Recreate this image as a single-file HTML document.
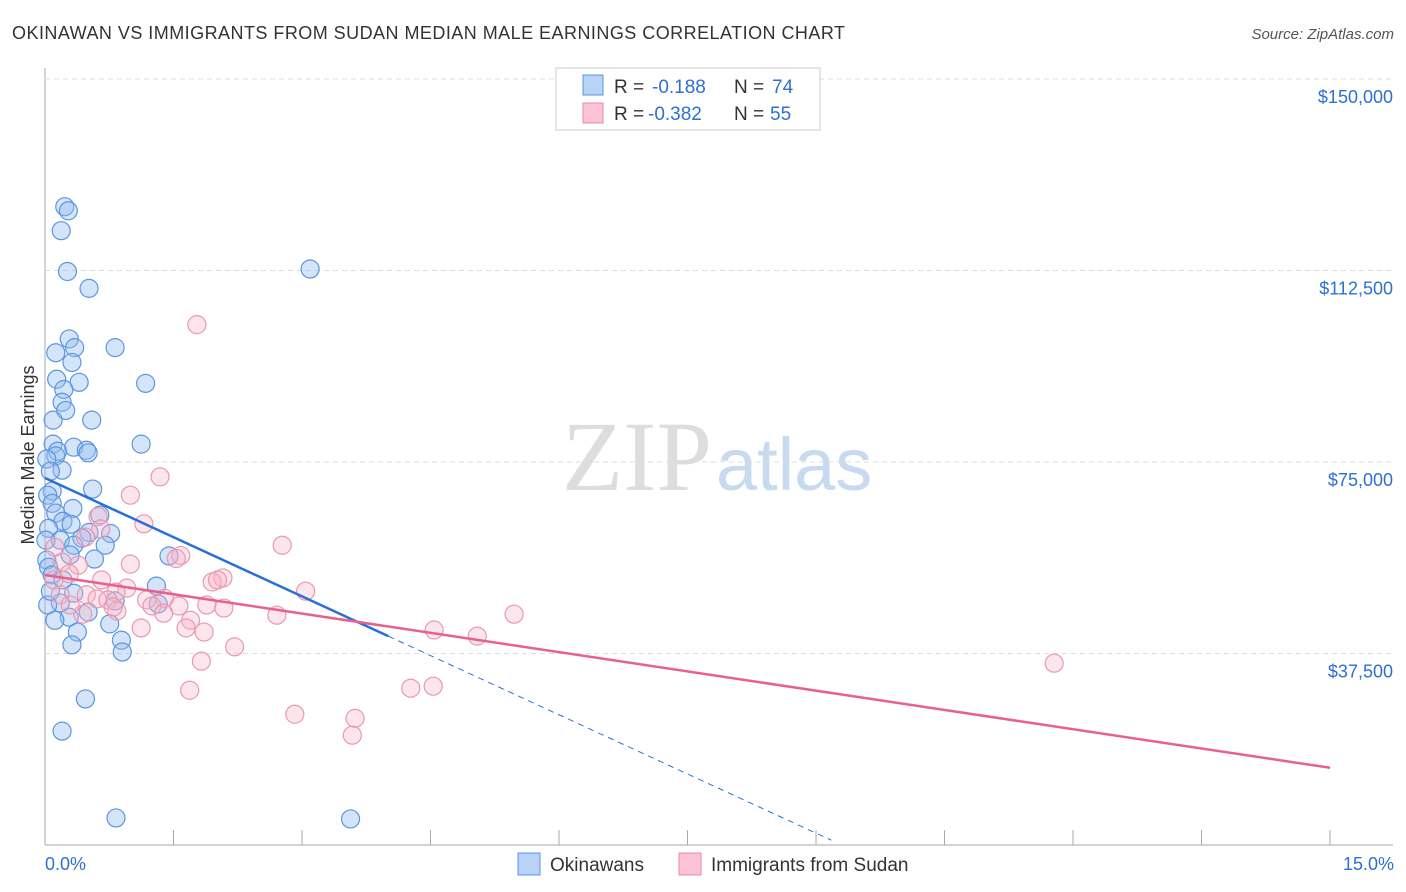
<!DOCTYPE html>
<html><head><meta charset="utf-8"><style>
body{margin:0;background:#fff;font-family:"Liberation Sans",sans-serif}
svg{display:block}
</style></head><body>
<svg id="c" width="1406" height="892">
<text x="12" y="39" font-size="18" fill="#333" textLength="833">OKINAWAN VS IMMIGRANTS FROM SUDAN MEDIAN MALE EARNINGS CORRELATION CHART</text>
<text x="1394" y="39" font-size="15" fill="#555" font-style="italic" text-anchor="end">Source: ZipAtlas.com</text>
<text x="712" y="490" font-size="100" fill="#ddd" text-anchor="end" font-family="Liberation Serif">ZIP</text>
<text x="716" y="490" font-size="74" fill="#c8daf0">atlas</text>
<text transform="translate(34,455) rotate(-90)" font-size="18" fill="#333" text-anchor="middle">Median Male Earnings</text>
<g id="grid"></g><g id="pts"></g><g id="lines"></g>
<g>
<rect x="556" y="68" width="264" height="62" fill="#fff" stroke="#ccc"/>
<rect x="583" y="75" width="20" height="20" fill="#b7d3f5" stroke="#5b95e0"/>
<rect x="583" y="103" width="20" height="20" fill="#f9c3d3" stroke="#e88aa8"/>
<text x="614" y="93" font-size="19" fill="#333">R =</text><text x="652" y="93" font-size="19" fill="#2f6fd1">-0.188</text>
<text x="734" y="93" font-size="19" fill="#333">N =</text><text x="772" y="93" font-size="19" fill="#2f6fd1">74</text>
<text x="614" y="120" font-size="19" fill="#333">R =</text><text x="648" y="120" font-size="19" fill="#2f6fd1">-0.382</text>
<text x="734" y="120" font-size="19" fill="#333">N =</text><text x="770" y="120" font-size="19" fill="#2f6fd1">55</text>
</g>
<g>
<rect x="518" y="853" width="22" height="22" fill="#b7d3f5" stroke="#5b95e0"/>
<text x="550" y="871" font-size="19" fill="#333">Okinawans</text>
<rect x="679" y="853" width="22" height="22" fill="#f9c3d3" stroke="#e88aa8"/>
<text x="711" y="871" font-size="19" fill="#333">Immigrants from Sudan</text>
</g>
<text x="45" y="870" font-size="18" fill="#2f6fd1">0.0%</text>
<text x="1394" y="870" font-size="18" fill="#2f6fd1" text-anchor="end">15.0%</text>
</svg>
<script>
const yTicks=[37500,75000,112500,150000];
const yTickLabels=["$37,500","$75,000","$112,500","$150,000"];
const blueX=[0.22,0.26,0.18,0.25,0.49,2.95,0.27,0.12,0.33,0.78,0.30,0.13,0.38,1.12,0.21,0.19,0.23,0.09,0.52,1.07,0.09,0.14,0.32,0.46,0.12,0.02,0.48,0.19,0.06,0.53,0.08,0.03,0.08,0.12,0.31,0.61,0.20,0.29,0.04,0.49,0.73,0.17,0.41,0.32,0.67,0.55,1.38,0.28,0.02,1.24,0.04,0.08,0.20,0.32,0.17,0.03,0.78,1.26,0.48,0.27,0.36,0.72,0.30,0.85,0.86,0.45,0.19,0.79,3.40,0.06,0.01,0.11];
const blueY=[125000,124200,120300,112300,109000,112800,99100,96400,97400,97400,94500,91200,90600,90400,89200,86700,85100,83200,83200,78500,78500,77100,77900,77300,76200,75600,76800,73400,73200,69700,69300,68500,66900,65000,65900,64600,63400,62800,62000,61200,61000,59700,60100,58700,58700,56000,56600,56800,55800,50700,54400,52900,51900,49300,47400,47000,47800,47200,45600,44600,41700,43300,39200,40100,37800,28600,22300,5300,5100,49700,59700,44000];
const pinkX=[1.69,1.28,0.95,1.10,0.59,0.62,2.64,1.51,1.46,0.45,0.11,0.19,0.37,0.27,0.10,1.98,1.86,1.92,2.90,0.91,0.79,0.46,0.58,0.70,1.13,1.33,1.19,1.49,1.80,1.99,5.22,0.80,0.42,0.76,1.62,1.32,1.07,1.57,1.77,2.58,2.11,4.33,4.81,1.74,1.61,11.23,4.07,4.32,2.78,3.45,3.42,0.17,0.28,0.63,0.95];
const pinkY=[101900,72100,68500,62900,64300,61900,58700,56700,56100,60300,58300,55400,54800,53100,51900,52300,51500,51900,49700,50300,49500,49000,48200,48000,48000,48300,46800,46800,47000,46400,45200,45800,45200,46600,44000,45400,42500,42500,41700,45000,38800,42100,40900,36000,30300,35600,30700,31100,25600,24800,21500,49000,47000,51900,55000];
const blueFit=[71866,-8106,3.82,8.75];
const pinkFit=[52872,-2640,14.3];
const X=v=>45+v/15*1348, Y=v=>845-v/37500*191.5;
const NS="http://www.w3.org/2000/svg";
function mk(t,a,p){const e=document.createElementNS(NS,t);for(const k in a)e.setAttribute(k,a[k]);p.appendChild(e);return e;}
const grid=document.getElementById('grid');
mk('line',{x1:45,y1:68,x2:45,y2:845,stroke:'#aaa'},grid);
mk('line',{x1:45,y1:845,x2:1393,y2:845,stroke:'#aaa'},grid);
for(let i=0;i<=10;i++){const l=mk('line',{x1:45+i*128.5,y1:830,x2:45+i*128.5,y2:845,stroke:'#aaa'},grid);

}
yTicks.forEach((v,i)=>{const l=mk('line',{x1:45,y1:Y(v),x2:1393,y2:Y(v),stroke:'#ddd','stroke-dasharray':'5,4'},grid);


const t=mk('text',{x:1393,y:Y(v)+24,'font-size':18,fill:'#2f6fd1','text-anchor':'end'},grid);t.textContent=yTickLabels[i];

});
const pts=document.getElementById('pts');
blueX.forEach((x,i)=>{const c=mk('circle',{cx:X(x),cy:Y(blueY[i]),r:9,fill:'rgba(150,190,240,0.4)',stroke:'#5b95e0','stroke-width':1.2},pts);

});
pinkX.forEach((x,i)=>{const c=mk('circle',{cx:X(x),cy:Y(pinkY[i]),r:9,fill:'rgba(248,180,200,0.35)',stroke:'#e899b2','stroke-width':1.2},pts);

});
const L=document.getElementById('lines');
const f=(fit,x)=>fit[0]+fit[1]*x;
let b=mk('line',{x1:X(0),y1:Y(f(blueFit,0)),x2:X(blueFit[2]),y2:Y(f(blueFit,blueFit[2])),stroke:'#2a6fd6','stroke-width':2.5},L);


let bd=mk('line',{x1:X(blueFit[2]),y1:Y(f(blueFit,blueFit[2])),x2:X(blueFit[3]),y2:Y(Math.max(0,f(blueFit,blueFit[3]))),stroke:'#2a6fd6','stroke-width':1,'stroke-dasharray':'6,5'},L);


let p=mk('line',{x1:X(0),y1:Y(f(pinkFit,0)),x2:X(pinkFit[2]),y2:Y(f(pinkFit,pinkFit[2])),stroke:'#e8608e','stroke-width':2.5},L);


</script>
</body></html>
